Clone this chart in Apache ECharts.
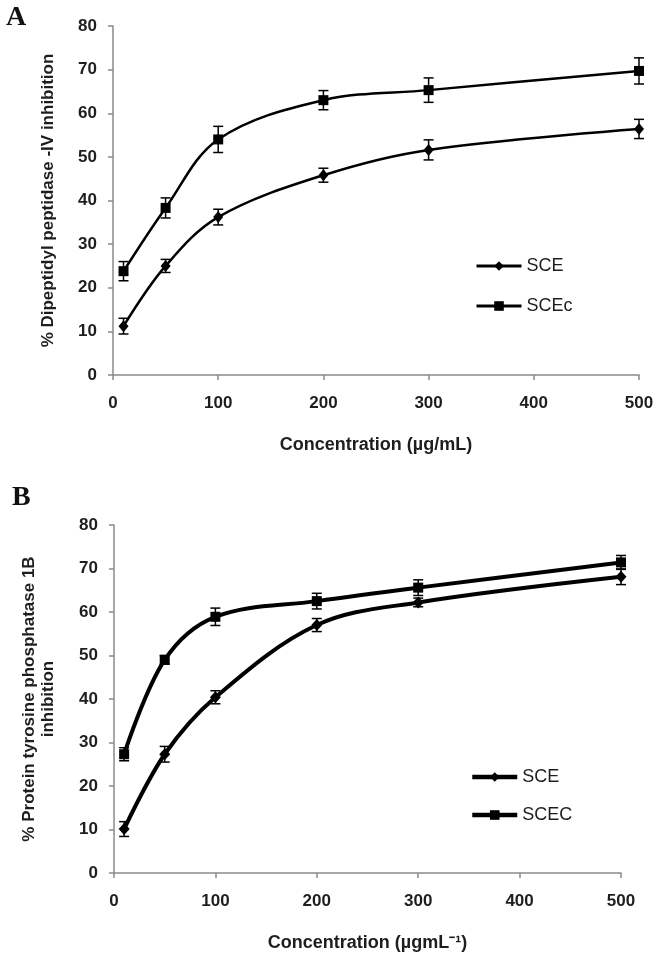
<!DOCTYPE html>
<html>
<head>
<meta charset="utf-8">
<script src="https://cdn.jsdelivr.net/npm/echarts@6/dist/echarts.min.js"></script>
<style>html,body{margin:0;padding:0;background:#fff;}#c{width:660px;height:954px;}</style>
</head>
<body>
<div id="c"></div>
<script>
// ---- data ----
var conc = [10, 50, 100, 200, 300, 500];
var xTicks = [0, 100, 200, 300, 400, 500];
var yTicks = [0, 10, 20, 30, 40, 50, 60, 70, 80];

var aSCE      = [11.2, 25.0, 36.2, 45.8, 51.6, 56.4];
var aSCEerr   = [1.8, 1.5, 1.8, 1.6, 2.3, 2.2];
var aSCEc     = [23.8, 38.3, 54.0, 63.0, 65.3, 69.7];
var aSCEcErr  = [2.2, 2.3, 3.0, 2.2, 2.8, 3.0];

var bSCE      = [10.1, 27.3, 40.4, 57.0, 62.2, 68.1];
var bSCEerr   = [1.7, 1.8, 1.5, 1.5, 1.0, 1.8];
var bSCEC     = [27.3, 49.0, 58.9, 62.5, 65.6, 71.4];
var bSCECerr  = [1.5, 1.0, 2.0, 1.8, 1.8, 1.6];

var labelA = 'A', labelB = 'B';
var xNameA = 'Concentration (µg/mL)';
var xNameB = 'Concentration (µgmL⁻¹)';
var yNameA = '% Dipeptidyl peptidase -IV inhibition';
var yNameB = '% Protein tyrosine phosphatase 1B\ninhibition';
var legendA = ['SCE', 'SCEc'];
var legendB = ['SCE', 'SCEC'];

// ---- chart ----
var FONT = '"Liberation Sans", Arial, sans-serif';
var axisColor = '#8a8a8a';
var textColor = '#1e1e1e';

function pts(vals) { return conc.map(function (c, i) { return [c, vals[i]]; }); }
function errPts(vals, errs) { return conc.map(function (c, i) { return [c, vals[i], errs[i]]; }); }

function errSeries(name, vals, errs, idx, lw) {
  return {
    type: 'custom', name: name + '_err', xAxisIndex: idx, yAxisIndex: idx, z: 5,
    data: errPts(vals, errs), encode: { x: 0, y: 1 }, silent: true,
    renderItem: function (params, api) {
      var x = api.value(0), y = api.value(1), e = api.value(2);
      var t = api.coord([x, y + e]), b = api.coord([x, y - e]);
      var w = 5;
      var st = { stroke: '#000', lineWidth: lw };
      return { type: 'group', children: [
        { type: 'line', shape: { x1: t[0], y1: t[1], x2: b[0], y2: b[1] }, style: st },
        { type: 'line', shape: { x1: t[0] - w, y1: t[1], x2: t[0] + w, y2: t[1] }, style: st },
        { type: 'line', shape: { x1: b[0] - w, y1: b[1], x2: b[0] + w, y2: b[1] }, style: st }
      ] };
    }
  };
}

function lineSeries(name, vals, idx, symbol, size, lw) {
  return {
    type: 'line', name: name, xAxisIndex: idx, yAxisIndex: idx, data: pts(vals),
    smooth: 0.35, symbol: symbol, symbolSize: size, showSymbol: true,
    lineStyle: { color: '#000', width: lw }, itemStyle: { color: '#000' },
    z: 4, animation: false
  };
}

function xAxis(idx, name, gap) {
  return {
    type: 'value', gridIndex: idx, min: xTicks[0], max: xTicks[xTicks.length - 1], interval: 100,
    name: name, nameLocation: 'middle', nameGap: gap,
    nameTextStyle: { fontFamily: FONT, fontWeight: 'bold', fontSize: 18, color: textColor },
    axisLine: { lineStyle: { color: axisColor, width: 1.5 } },
    axisTick: { show: true, length: 5, lineStyle: { color: axisColor, width: 1.5 } },
    axisLabel: { fontFamily: FONT, fontWeight: 'bold', fontSize: 17, color: textColor, margin: 20 },
    splitLine: { show: false }
  };
}
function yAxis(idx, name, gap, lh) {
  return {
    type: 'value', gridIndex: idx, min: yTicks[0], max: yTicks[yTicks.length - 1], interval: 10,
    name: name, nameLocation: 'middle', nameGap: gap, nameRotate: 90,
    nameTextStyle: { fontFamily: FONT, fontWeight: 'bold', fontSize: 17, color: textColor, lineHeight: lh, align: 'center' },
    axisLine: { show: true, lineStyle: { color: axisColor, width: 1.5 } },
    axisTick: { show: true, length: 5, lineStyle: { color: axisColor, width: 1.5 } },
    axisLabel: { fontFamily: FONT, fontWeight: 'bold', fontSize: 17, color: textColor, margin: 16 },
    splitLine: { show: false }
  };
}

var chart = echarts.init(document.getElementById('c'), null, { renderer: 'canvas' });
chart.setOption({
  backgroundColor: '#fff',
  animation: false,
  grid: [
    { left: 113, top: 26, width: 526, height: 349 },
    { left: 114, top: 525, width: 507, height: 348 }
  ],
  xAxis: [xAxis(0, xNameA, 61), xAxis(1, xNameB, 61)],
  yAxis: [yAxis(0, yNameA, 55, 19), yAxis(1, yNameB, 56, 19)],
  legend: [
    { orient: 'vertical', left: 475, top: 257, padding: 0, itemWidth: 45, itemHeight: 12, itemGap: 22,
      data: [legendA[0], legendA[1]],
      lineStyle: { width: 3, color: '#000' },
      textStyle: { fontFamily: FONT, fontSize: 18, color: textColor } },
    { orient: 'vertical', left: 470, top: 768, padding: 0, itemWidth: 45, itemHeight: 12, itemGap: 20,
      data: [legendB[0] + ' ', legendB[1] + ' '],
      lineStyle: { width: 4.5, color: '#000' },
      formatter: function (n) { return n.trim(); },
      textStyle: { fontFamily: FONT, fontSize: 18, color: textColor } }
  ],
  graphic: [
    { type: 'text', left: 6, top: 4, style: { text: labelA, font: 'bold 28px "Liberation Serif", "Times New Roman", serif', fill: '#111' } },
    { type: 'text', left: 12, top: 484, style: { text: labelB, font: 'bold 28px "Liberation Serif", "Times New Roman", serif', fill: '#111' } }
  ],
  series: [
    lineSeries(legendA[0], aSCE, 0, 'diamond', [10, 12], 2.5),
    lineSeries(legendA[1], aSCEc, 0, 'rect', 10, 2.5),
    errSeries('a1', aSCE, aSCEerr, 0, 1.5),
    errSeries('a2', aSCEc, aSCEcErr, 0, 1.5),
    lineSeries(legendB[0] + ' ', bSCE, 1, 'diamond', [11, 12], 4),
    lineSeries(legendB[1] + ' ', bSCEC, 1, 'rect', 10, 4),
    errSeries('b1', bSCE, bSCEerr, 1, 1.5),
    errSeries('b2', bSCEC, bSCECerr, 1, 1.5)
  ]
});
</script>
</body>
</html>
